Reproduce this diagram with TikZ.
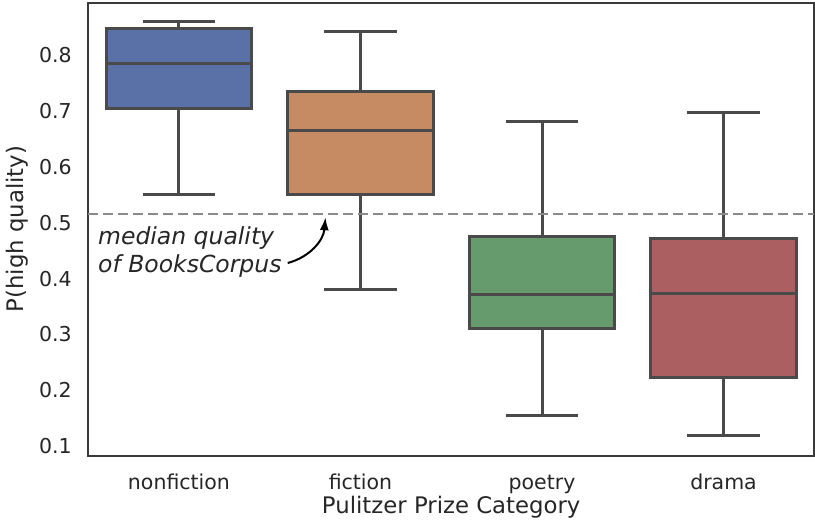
\documentclass[tikz,border=0pt]{standalone}
\usepackage{fontspec}
\setmainfont{DejaVu Sans}
\usetikzlibrary{arrows.meta}

\definecolor{boxblue}{HTML}{5A71A8}
\definecolor{boxorange}{HTML}{C68B62}
\definecolor{boxgreen}{HTML}{659B6D}
\definecolor{boxred}{HTML}{AB5F61}
\definecolor{linegray}{HTML}{4A4A4A}
\definecolor{framegray}{HTML}{3A3A3A}
\definecolor{textgray}{HTML}{262626}
\definecolor{refgray}{HTML}{8A8A8A}

\begin{document}
\begin{tikzpicture}[
    x=181.5pt,
    y=558pt,
    ticklabel/.style={
        text=textgray,
        inner sep=0pt,
        font=\fontsize{20.5}{24}\selectfont
    },
    axislabel/.style={
        text=textgray,
        inner sep=0pt,
        font=\fontsize{22.8}{27}\selectfont
    },
    note/.style={
        text=textgray,
        inner sep=0pt,
        align=left,
        font=\fontsize{23.5}{28}\selectfont\itshape
    },
    boxline/.style={
        draw=linegray,
        line width=3pt
    },
    whisker/.style={
        linegray,
        line width=3pt
    },
    frame/.style={
        draw=framegray,
        line width=2pt
    },
    refline/.style={
        refgray,
        line width=2pt,
        dash pattern=on 10pt off 5pt
    },
    notearrow/.style={
        -{Latex[length=13pt,width=9pt]},
        line width=2pt,
        black
    }
]

\useasboundingbox (-0.986,-0.04516) rectangle (3.504,0.89928);

% ------------------------------------------------------------------
% Axes
% ------------------------------------------------------------------

\draw[frame] (-0.5,0.0821) rectangle (3.497,0.8939);

\foreach \v [count=\k] in {0.1,0.2,0.3,0.4,0.5,0.6,0.7,0.8}
    \node[ticklabel, anchor=east] (ytick\k) at (-0.5895,\v) {\v};

\node[ticklabel, anchor=base] (nonfiction) at (0,0.023) {nonfiction};
\node[ticklabel, anchor=base] (fiction)    at (1,0.023) {fiction};
\node[ticklabel, anchor=base] (poetry)     at (2,0.023) {poetry};
\node[ticklabel, anchor=base] (drama)      at (3,0.023) {drama};

\node[axislabel, anchor=base] (xlabel) at (1.5,-0.020)
    {Pulitzer Prize Category};

\node[axislabel, rotate=90] (ylabel) at (-0.8925,0.489)
    {P(high quality)};

% ------------------------------------------------------------------
% Boxes
% ------------------------------------------------------------------

\foreach \cx/\lo/\qa/\md/\qb/\hi/\fillc in {
    0/0.5516/0.7057/0.7846/0.849/0.860/boxblue,
    1/0.381/0.550/0.666/0.736/0.842/boxorange,
    2/0.1556/0.310/0.372/0.476/0.682/boxgreen,
    3/0.1197/0.2237/0.374/0.471/0.697/boxred}
{
    \draw[whisker] (\cx,\qa) -- (\cx,\lo);
    \draw[whisker] (\cx-0.2,\lo) -- (\cx+0.2,\lo);
    \draw[whisker] (\cx,\qb) -- (\cx,\hi);
    \draw[whisker] (\cx-0.2,\hi) -- (\cx+0.2,\hi);
    \draw[boxline, fill=\fillc] (\cx-0.4,\qa) rectangle (\cx+0.4,\qb);
    \draw[whisker] (\cx-0.4,\md) -- (\cx+0.4,\md);
}

% ------------------------------------------------------------------
% Reference line
% ------------------------------------------------------------------

\draw[refline] (-0.5,0.5158) -- (3.497,0.5158);

\node[note, anchor=west] (mediannote) at (-0.4463,0.4477)
    {median quality\\of BooksCorpus};

\coordinate (medtip) at (0.807,0.510);

\draw[notearrow] ([xshift=6pt,yshift=-11pt]mediannote.east)
    to[out=15,in=-95] (medtip);

\end{tikzpicture}
\end{document}
